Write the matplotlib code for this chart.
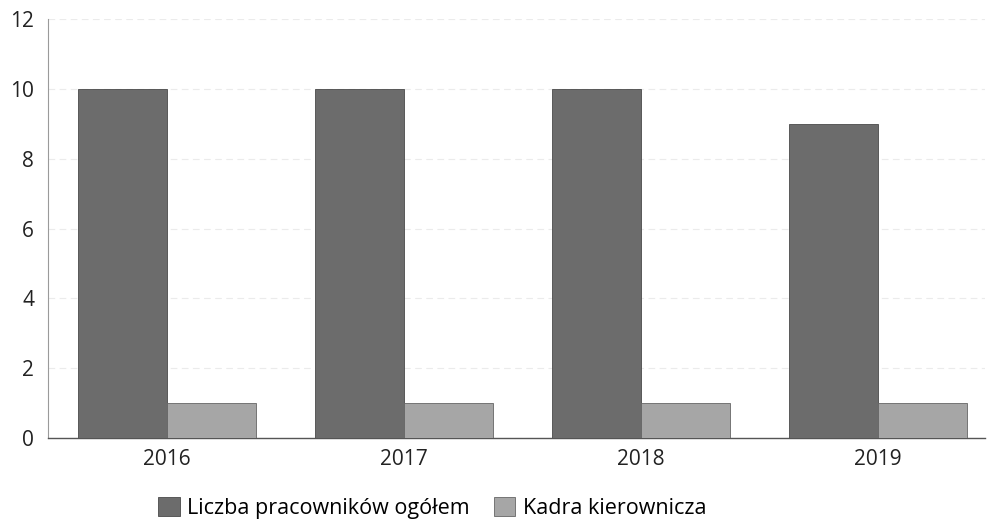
import matplotlib.pyplot as plt
import numpy as np

plt.rcParams['font.family'] = ['Open Sans', 'DejaVu Sans']

years = ['2016', '2017', '2018', '2019']
ogolem = [10, 10, 10, 9]
kadra = [1, 1, 1, 1]
labels = ['Liczba pracowników ogółem', 'Kadra kierownicza']

fig = plt.figure(figsize=(9.89, 5.23), dpi=100)
ax = fig.add_axes([0.0485, 0.1625, 0.9475, 0.8005])

x = np.arange(len(years))
w = 0.375
b1 = ax.bar(x, ogolem, -w, align='edge', color='#6c6c6c', edgecolor='#4a4a4a', linewidth=0.6, label=labels[0], zorder=3)
b2 = ax.bar(x, kadra, w, align='edge', color='#a6a6a6', edgecolor='#666666', linewidth=0.6, label=labels[1], zorder=3)

ax.set_ylim(0, 12)
ax.set_xlim(-0.5, 3.45)
ax.set_yticks(range(0, 13, 2))
ax.set_xticks(x)
ax.set_xticklabels(years)
ax.tick_params(axis='both', length=0, labelsize=15, colors='#222222')
ax.tick_params(axis='y', pad=10)
ax.tick_params(axis='x', pad=8)
ax.yaxis.grid(True, color='#ebebeb', linewidth=0.8, linestyle=(0, (6, 4)), zorder=0)

ax.spines['top'].set_visible(False)
ax.spines['right'].set_visible(False)
ax.spines['left'].set_color('#9a9a9a')
ax.spines['left'].set_linewidth(0.8)
ax.spines['bottom'].set_color('#555555')
ax.spines['bottom'].set_linewidth(1.0)

fig.legend(handles=[b1, b2], labels=labels, loc='center', bbox_to_anchor=(0.437, 0.029),
           ncol=2, frameon=False, fontsize=15.5, handlelength=1.0, handleheight=1.0,
           handletextpad=0.35, columnspacing=1.1)

fig.savefig('out.png', dpi=100)
